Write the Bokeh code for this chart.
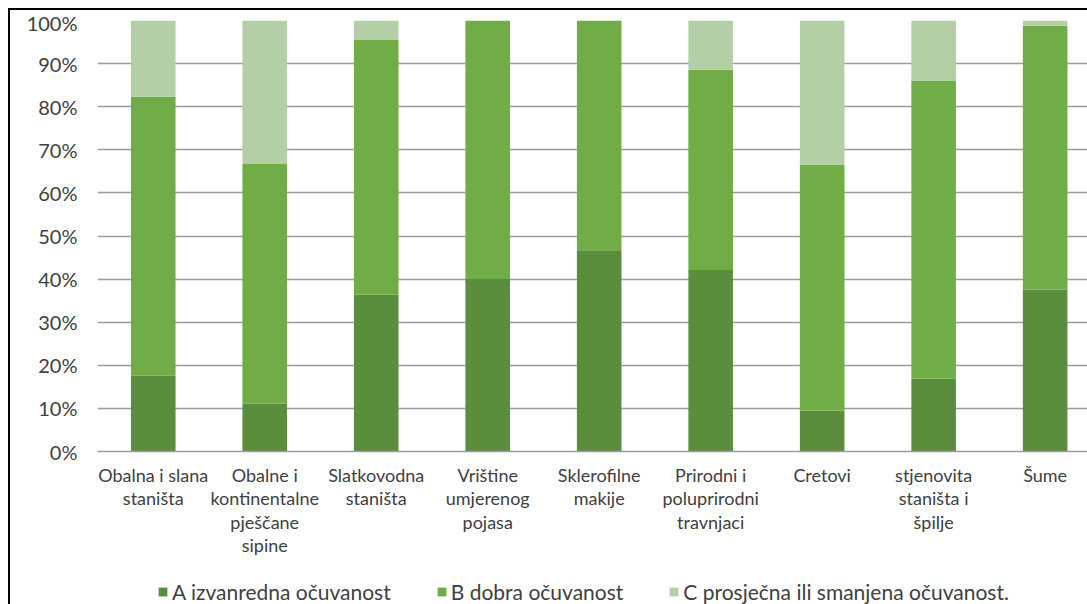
import numpy as np
from bokeh.plotting import figure
from bokeh.layouts import column
from bokeh.models import (ColumnDataSource, Range1d, FixedTicker, NumeralTickFormatter, Legend,
                          LegendItem)
from bokeh.embed import file_html
from bokeh.resources import INLINE

categories = [
    "Obalna i slana\nstaništa",
    "Obalne i\nkontinentalne\npješčane\nsipine",
    "Slatkovodna\nstaništa",
    "Vrištine\numjerenog\npojasa",
    "Sklerofilne\nmakije",
    "Prirodni i\npoluprirodni\ntravnjaci",
    "Cretovi",
    "stjenovita\nstaništa i\nšpilje",
    "Šume",
]
series_names = ["A izvanredna očuvanost", "B dobra očuvanost", "C prosječna ili smanjena očuvanost."]
A = [17.6, 11.1, 36.4, 40.0, 46.7, 42.1, 9.5, 16.9, 37.6]
B = [64.7, 55.6, 59.1, 60.0, 53.3, 46.5, 57.1, 69.2, 61.2]
C = [17.7, 33.3, 4.5, 0.0, 0.0, 11.4, 33.4, 13.9, 1.2]
y_ticks = [i / 10 for i in range(11)]

colors = ["#5b8e3c", "#70ad47", "#b4cfa6"]
FONT = "Lato"
TXT = "#404040"

x = np.arange(len(categories)) + 0.5
src = ColumnDataSource(dict(x=x, A=np.array(A) / 100, B=np.array(B) / 100, C=np.array(C) / 100))

W = 1077
H1 = 560
H2 = 34

p = figure(width=W, height=H1, output_backend="svg", toolbar_location=None,
           x_range=Range1d(0, 8.88), y_range=Range1d(0, 1.0),
           min_border_left=87, min_border_right=0, min_border_top=10, min_border_bottom=H1 - 441)
p.outline_line_color = None

rs = p.vbar_stack(["A", "B", "C"], x="x", width=0.4, source=src, color=colors, line_color=None)

p.xgrid.grid_line_color = None
p.ygrid.grid_line_color = "#9c9c9c"
p.ygrid.grid_line_width = 1.6
p.ygrid.ticker = FixedTicker(ticks=y_ticks)

p.yaxis.ticker = FixedTicker(ticks=y_ticks)
p.yaxis.formatter = NumeralTickFormatter(format="0%")
p.yaxis.axis_line_color = None
p.yaxis.major_tick_line_color = None
p.yaxis.minor_tick_line_color = None
p.yaxis.major_tick_out = 0
p.yaxis.major_label_standoff = 20
p.yaxis.major_label_text_font = FONT
p.yaxis.major_label_text_font_size = "20px"
p.yaxis.major_label_text_color = TXT

p.xaxis.ticker = FixedTicker(ticks=list(x))
p.xaxis.major_label_overrides = {float(xi): c for xi, c in zip(x, categories)}
p.xaxis.axis_line_color = "#9c9c9c"
p.xaxis.axis_line_width = 1.6
p.xaxis.major_tick_line_color = None
p.xaxis.minor_tick_line_color = None
p.xaxis.major_tick_out = 0
p.xaxis.major_label_standoff = 12
p.xaxis.major_label_text_font = FONT
p.xaxis.major_label_text_font_size = "18px"
p.xaxis.major_label_text_color = TXT
p.xaxis.major_label_text_line_height = 1.07

# legend strip below the chart (same series; bars lie outside its visible range)
q = figure(width=W, height=H2, output_backend="svg", toolbar_location=None,
           x_range=Range1d(0, 8.88), y_range=Range1d(10, 11),
           x_axis_location=None, y_axis_location=None,
           min_border_left=0, min_border_right=0, min_border_top=0, min_border_bottom=0)
q.outline_line_color = None
q.xgrid.grid_line_color = None
q.ygrid.grid_line_color = None
rq = q.vbar_stack(["A", "B", "C"], x="x", width=0.4, source=src, color=colors, line_color=None)

legend = Legend(items=[LegendItem(label=n, renderers=[r]) for n, r in zip(series_names, rq)],
                orientation="horizontal", location=(60, 0),
                border_line_color=None, background_fill_alpha=0,
                glyph_width=11, glyph_height=11, label_standoff=4, spacing=45,
                padding=0, margin=0,
                label_text_font=FONT, label_text_font_size="21px", label_text_color=TXT)
q.add_layout(legend, "center")

layout = column(p, q, spacing=0)
layout.styles = {"margin-left": "8px", "margin-top": "8px",
                 "border-left": "2px solid black", "border-top": "2px solid black"}

open("out.html", "w").write(file_html(layout, INLINE))
